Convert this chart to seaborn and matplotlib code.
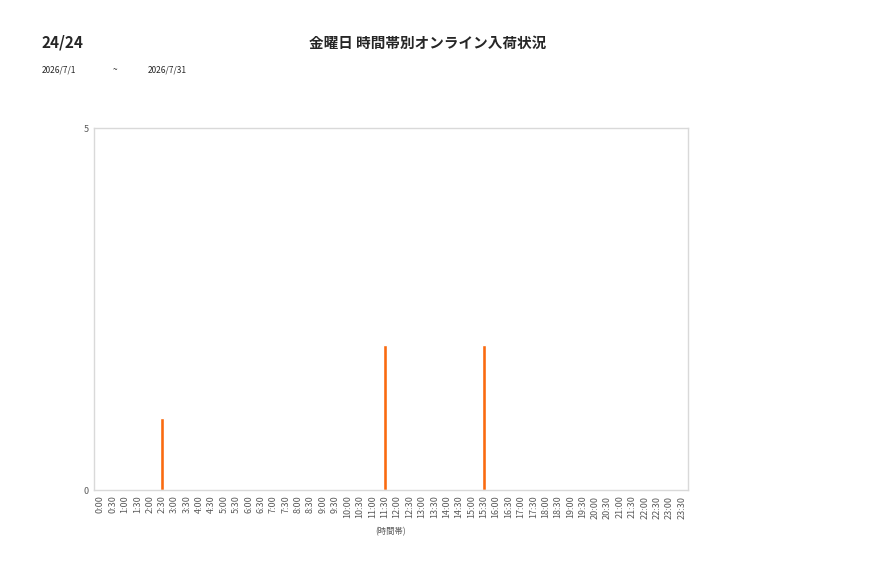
import pandas as pd
import seaborn as sns
import matplotlib
matplotlib.use("Agg")
import matplotlib.pyplot as plt

times = [f"{h}:{m:02d}" for h in range(24) for m in (0, 30)]
counts = [0, 0, 0, 0, 0, 1, 0, 0, 0, 0,
          0, 0, 0, 0, 0, 0, 0, 0, 0, 0,
          0, 0, 0, 2, 0, 0, 0, 0, 0, 0,
          0, 2, 0, 0, 0, 0, 0, 0, 0, 0,
          0, 0, 0, 0, 0, 0, 0, 0]
y_ticks = [0, 5]

df = pd.DataFrame({"time": times, "count": counts})

sns.set_style("white")
plt.rcParams["font.family"] = ["Noto Sans CJK JP", "DejaVu Sans"]

fig = plt.figure(figsize=(8.77, 5.78), dpi=100)
ax = fig.add_axes([94 / 877, 88 / 578, 594 / 877, 362 / 578])

sns.barplot(x="time", y="count", data=df, order=times, color="#FA6A10",
            width=0.28, ax=ax, saturation=1)

ax.set_xlim(-0.5, len(times) - 0.5)
ax.set_ylim(0, 5)
ax.set_yticks(y_ticks)
ax.set_yticklabels([str(v) for v in y_ticks], fontsize=6.5, color="#595959")
ax.set_xticks(range(len(times)))
ax.set_xticklabels(times, rotation=90, fontsize=6.5, color="#595959")
ax.tick_params(axis="both", length=0, pad=4)
ax.set_xlabel("(時間帯)", fontsize=6, color="#595959", labelpad=6)
ax.set_ylabel("")
for s in ax.spines.values():
    s.set_color("#D9D9D9")
    s.set_linewidth(1)

fig.text(42 / 877, 1 - 43 / 578, "24/24", fontsize=11, fontweight="bold",
         va="center", ha="left")
fig.text(428 / 877, 1 - 43 / 578, "金曜日 時間帯別オンライン入荷状況", fontsize=10.5,
         fontweight="bold", va="center", ha="center")
fig.text(42 / 877, 1 - 70 / 578, "2026/7/1", fontsize=6, va="center", ha="left")
fig.text(113 / 877, 1 - 70 / 578, "~", fontsize=6, va="center", ha="left")
fig.text(148 / 877, 1 - 70 / 578, "2026/7/31", fontsize=6, va="center", ha="left")

fig.savefig("out.png", dpi=100)
